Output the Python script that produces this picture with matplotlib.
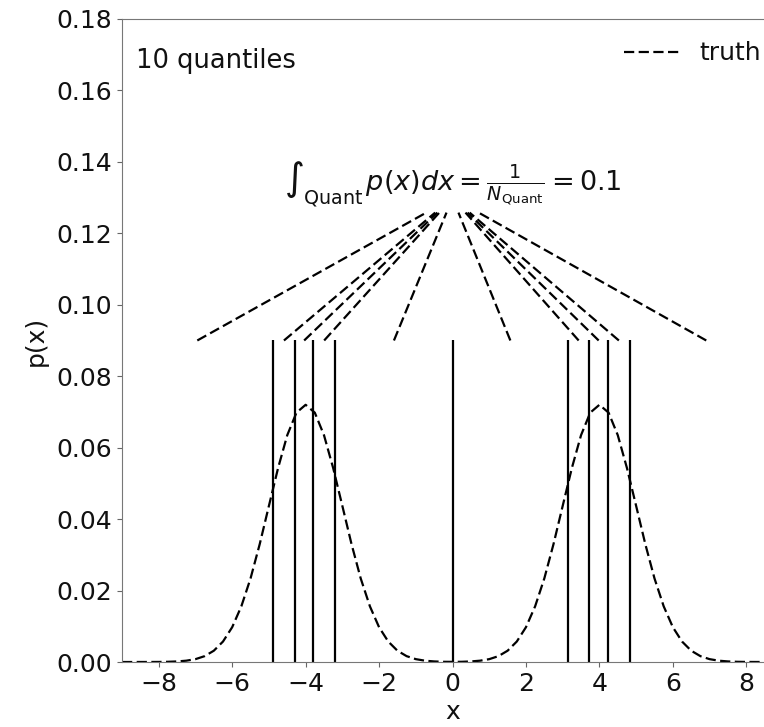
import matplotlib
matplotlib.use("Agg")
import matplotlib.pyplot as plt
import numpy as np

# truth curve (x, p(x))
x_truth = np.arange(-9.0, 9.01, 0.25)
hump = [0.0, 0.0, 0.00001, 0.00001, 0.00002, 0.00006, 0.00016, 0.00037, 0.00080,
        0.00164, 0.00316, 0.00573, 0.00974, 0.0156, 0.0234, 0.0330, 0.0437,
        0.0543, 0.0635, 0.0698, 0.0720, 0.0698, 0.0635, 0.0543, 0.0437, 0.0330,
        0.0234, 0.0156, 0.00974, 0.00573, 0.00316, 0.00164, 0.00080, 0.00037,
        0.00016, 0.00006]
mid_val = [0.00004]
y_truth = hump + mid_val + hump[::-1]

# quantile boundaries
quantiles = [-4.90, -4.28, -3.80, -3.19, 0.0, 3.15, 3.72, 4.24, 4.82]
x_range = [-9.0, 9.0]
line_top = 0.09
label_text = r"$\int_{\rm Quant}\, p(x)dx = \frac{1}{N_{\rm Quant}} = 0.1$"

DASH = (0, (4.6, 2.0))
LW = 1.6

fig = plt.figure(figsize=(7.64, 7.27), dpi=100)
ax = fig.add_axes([0.1597, 0.0894, 1.0249 - 0.1597, 0.9739 - 0.0894])

ax.plot(x_truth, y_truth, ls=DASH, color="black", lw=LW, label="truth")
ax.vlines(quantiles, 0, line_top, color="black", lw=LW)

edges = [x_range[0]] + quantiles + [x_range[1]]
mids = [(a + b) / 2 for a, b in zip(edges[:-1], edges[1:])]
yc = 0.1299   # convergence height
yend = 0.1258  # where lines stop
for m in mids:
    ex = m * (yc - yend) / (yc - line_top)
    ax.plot([m, ex], [line_top, yend], ls=DASH, color="black", lw=LW)

ax.text(0, 0.1337, label_text, ha="center", va="center", fontsize=19.5,
        color="#111111")
ax.text(0.021, 0.935, "10 quantiles", transform=ax.transAxes, ha="left",
        va="center", fontsize=18.5, color="#111111")

ax.set_xlim(*x_range)
ax.set_ylim(0, 0.18)
ax.set_xticks(np.arange(-8, 9, 2))
ax.set_yticks(np.arange(0, 0.181, 0.02))
ax.yaxis.set_major_formatter(matplotlib.ticker.FormatStrFormatter("%.2f"))
ax.tick_params(labelsize=18, color="#666666", labelcolor="#111111")
for s in ax.spines.values():
    s.set_color("#777777")
ax.set_xlabel("x", fontsize=18, color="#111111", labelpad=3)
ax.set_ylabel("p(x)", fontsize=18, color="#111111", labelpad=6)
ax.legend(loc="upper right", frameon=False, fontsize=18, handlelength=2.2,
          labelcolor="#111111")

fig.savefig("out.png", dpi=100)
